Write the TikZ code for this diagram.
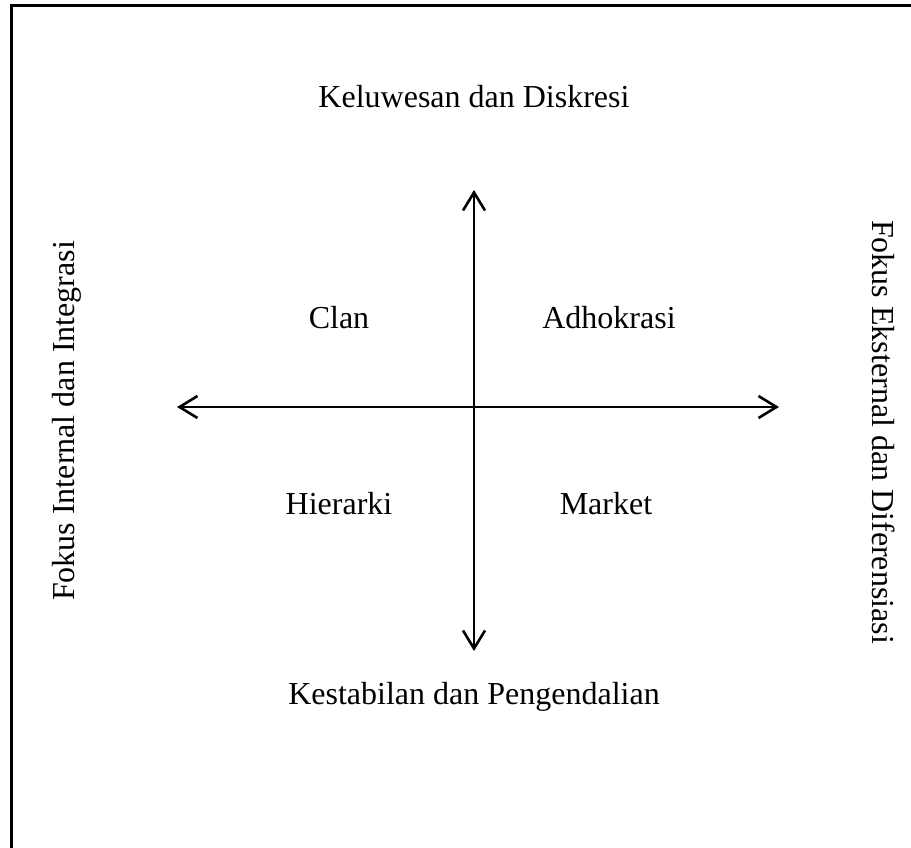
\documentclass[tikz,border=0pt]{standalone}
\usepackage{fontspec}
\setmainfont{Liberation Serif}
\usetikzlibrary{arrows.meta}
\begin{document}
\begin{tikzpicture}[x=0.5pt,y=-0.5pt,
  lbl/.style={font=\fontsize{16}{19}\selectfont, inner sep=0pt},
  tip/.style={Straight Barb[length=9pt,width=11pt,line width=1.3pt]},
  axis/.style={line width=1.3pt, {Straight Barb[length=9pt,width=11pt,line width=1.3pt]}-{Straight Barb[length=9pt,width=11pt,line width=1.3pt]}},
  frame/.style={line width=1.4pt}]
  \useasboundingbox (0,0) rectangle (911,847);
  % partial frame: its right and bottom sides run past the page
  \draw[frame] (11.5,900) -- (11.5,5.5) -- (960,5.5);

  % axes
  \coordinate (top) at (474,190);
  \coordinate (bottom) at (474,651);
  \coordinate (left) at (177,407);
  \coordinate (right) at (779,407);
  \draw[axis] (top) -- (bottom);
  \draw[axis] (left) -- (right);

  % axis captions
  \node[lbl] (flex) at (474,97) {Keluwesan dan Diskresi};
  \node[lbl] (stab) at (474,697) {Kestabilan dan Pengendalian};
  \node[lbl, rotate=90] (internal) at (67,421) {Fokus Internal dan Integrasi};
  \node[lbl, rotate=-90] (external) at (884,432) {Fokus Eksternal dan Diferensiasi};

  % quadrants
  \node[lbl] (clan) at (339,318) {Clan};
  \node[lbl] (adhoc) at (609,318) {Adhokrasi};
  \node[lbl] (hier) at (339,504) {Hierarki};
  \node[lbl] (market) at (606,504) {Market};
\end{tikzpicture}
\end{document}
